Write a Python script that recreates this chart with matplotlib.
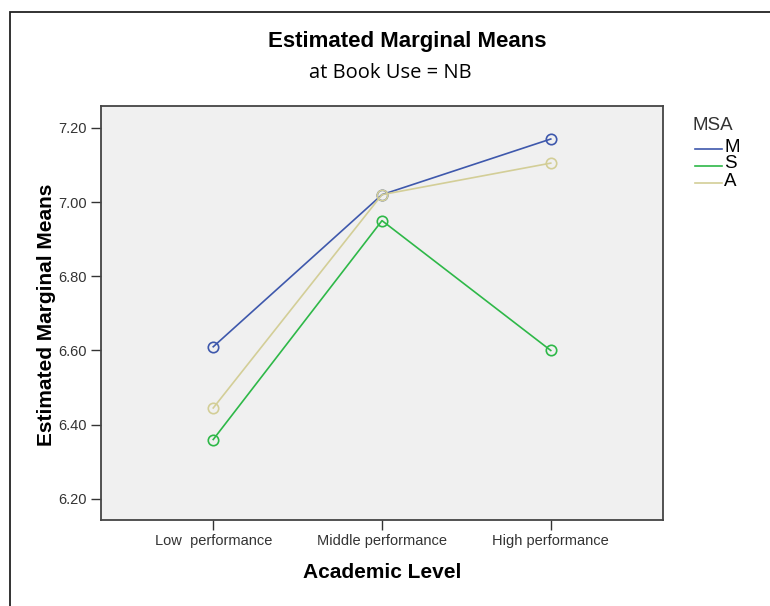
import matplotlib
matplotlib.use("Agg")
import matplotlib.pyplot as plt
import matplotlib.patches as patches

categories = ["Low  performance", "Middle performance", "High performance"]
series_names = ["M", "S", "A"]
m_values = [6.61, 7.02, 7.17]
s_values = [6.36, 6.95, 6.60]
a_values = [6.445, 7.02, 7.105]
y_ticks = [6.20, 6.40, 6.60, 6.80, 7.00, 7.20]

colors = ["#3E58AC", "#2EB848", "#D3CE97"]
W, H = 770, 606

plt.rcParams['font.family'] = ['Liberation Sans', 'DejaVu Sans']
fig = plt.figure(figsize=(W / 100, H / 100), dpi=100)

# axes box in pixel coords: left 101, right 663, top 106, bottom 520
ax = fig.add_axes([101 / W, 1 - 520 / H, (663 - 101) / W, (520 - 106) / H])
ax.set_facecolor("#F0F0F0")

x = list(range(len(categories)))
for vals, name, col in zip([m_values, s_values, a_values], series_names, colors):
    ax.plot(x, vals, '-o', color=col, lw=1.2, markersize=7.5,
            markerfacecolor='none', markeredgewidth=1.2, label=name)

ax.set_xlim(-0.665, 2.665)
ax.set_ylim(6.143, 7.259)
ax.set_yticks(y_ticks)
ax.set_yticklabels(["%.2f" % v for v in y_ticks], fontsize=10.5, color="#333333")
ax.set_xticks(x)
ax.set_xticklabels(categories, fontsize=10.5, color="#333333")
ax.tick_params(axis='both', direction='out', length=7, width=1, color="#333333", pad=3)
for sp in ax.spines.values():
    sp.set_color("#444444")
    sp.set_linewidth(1.3)

ax.set_xlabel("Academic Level", fontsize=15, fontweight='bold')
ax.xaxis.set_label_coords(0.5, -(563 - 520) / 414)
ax.set_ylabel("Estimated Marginal Means", fontsize=15, fontweight='bold')
ax.yaxis.set_label_coords(-(101 - 56) / 562, 0.5 - (315 - 313) / 414)

fig.text(407 / W, 1 - 42 / H, "Estimated Marginal Means", ha='center', va='center',
         fontsize=16, fontweight='bold')
fig.text(390 / W, 1 - 73 / H, "at Book Use = NB", ha='center', va='center',
         fontsize=14.5, family=['Open Sans', 'DejaVu Sans'])

# legend drawn manually in figure pixels
fig.text(693 / W, 1 - 126 / H, "MSA", ha='left', va='center', fontsize=13.5, color="#333333")
for i, (name, col) in enumerate(zip(series_names, colors)):
    yy = 1 - (149 + 17 * i) / H
    fig.add_artist(plt.Line2D([695 / W, 722 / W], [yy, yy], color=col, lw=1.2))
    fig.text(724 / W, yy + 2 / H, name, ha='left', va='center', fontsize=13.5)

# outer frame
fig.add_artist(patches.Rectangle((10 / W, -0.1), 1.2, 1.1 - 12 / H, transform=fig.transFigure,
                                 fill=False, edgecolor='#222222', lw=1.3))

fig.savefig("out.png", dpi=100)
